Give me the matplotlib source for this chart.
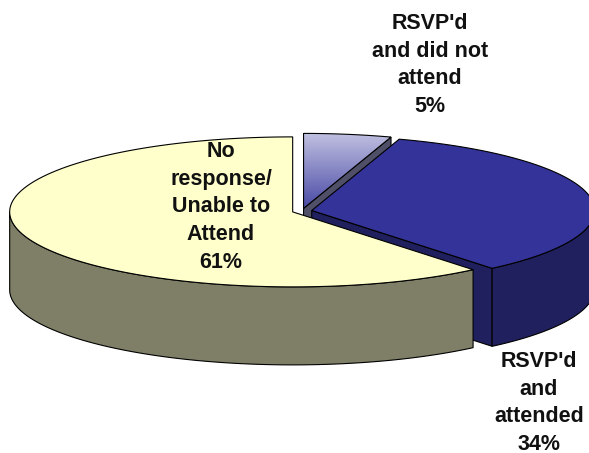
import numpy as np
import matplotlib.pyplot as plt
from matplotlib.patches import Polygon
from matplotlib.colors import LinearSegmentedColormap

# slices, clockwise from 12 o'clock
labels = ["RSVP'd\nand did not\nattend", "RSVP'd\nand\nattended", "No\nresponse/\nUnable to\nAttend"]
values = [5, 34, 61]
top_colors = ["#9c9cd0", "#333399", "#ffffcc"]
side_colors = ["#4f4f68", "#20205e", "#7f7f68"]
label_pos = [(430, 65), (539, 403), (221, 207)]

# pie geometry in pixels
cx, cy = 302, 211
rx, ry = 283, 75
depth = 78
explode = 0.035

fig = plt.figure(figsize=(5.89, 4.53), dpi=100)
ax = fig.add_axes([0, 0, 1, 1])
ax.set_xlim(0, 589)
ax.set_ylim(453, 0)
ax.axis("off")


def rim(x0, y0, t):
    t = np.radians(t)
    return x0 + rx * np.sin(t), y0 - ry * np.cos(t)


total = float(sum(values))
angles = np.cumsum([0] + [v / total * 360 for v in values])
centers = []
for i in range(len(values)):
    mid = np.radians((angles[i] + angles[i + 1]) / 2)
    centers.append((cx + explode * rx * np.sin(mid), cy - explode * ry * np.cos(mid)))

# --- side walls first (back to front)
for i in range(len(values)):
    x0, y0 = centers[i]
    t0, t1 = angles[i], angles[i + 1]
    # visible radial faces
    for t, sgn in ((t0, -1), (t1, 1)):
        tr = np.radians(t)
        ny = sgn * np.sin(tr)
        if ny > 0.05:
            px, py = rim(x0, y0, t)
            quad = [(x0, y0), (px, py), (px, py + depth), (x0, y0 + depth)]
            ax.add_patch(Polygon(quad, closed=True, fc=side_colors[i], ec="black", lw=0.8))
    # outer curved wall, front half only
    a, b = max(t0, 90), min(t1, 270)
    if b > a:
        ts = np.linspace(a, b, 120)
        xs, ys = rim(x0, y0, ts)
        pts = list(zip(xs, ys)) + list(zip(xs[::-1], ys[::-1] + depth))
        ax.add_patch(Polygon(pts, closed=True, fc=side_colors[i], ec="black", lw=0.8))

# --- top faces
for i in range(len(values)):
    x0, y0 = centers[i]
    ts = np.linspace(angles[i], angles[i + 1], 200)
    xs, ys = rim(x0, y0, ts)
    pts = [(x0, y0)] + list(zip(xs, ys))
    if i == 0:
        poly = Polygon(pts, closed=True, fc="none", ec="black", lw=0.8, zorder=3)
        ax.add_patch(poly)
        cmap = LinearSegmentedColormap.from_list("lb", ["#c2c2e2", "#4a4aa6"])
        ymin, ymax = min(ys.min(), y0), max(ys.max(), y0)
        xmin, xmax = min(xs.min(), x0), max(xs.max(), x0)
        grad = np.linspace(0, 1, 256).reshape(-1, 1)
        im = ax.imshow(grad, cmap=cmap, aspect="auto", extent=(xmin, xmax, ymax, ymin),
                       origin="upper", zorder=2)
        im.set_clip_path(poly)
    else:
        ax.add_patch(Polygon(pts, closed=True, fc=top_colors[i], ec="black", lw=0.8, zorder=2))

ax.set_xlim(0, 589)
ax.set_ylim(453, 0)

for i in range(len(values)):
    ax.text(label_pos[i][0], label_pos[i][1], f"{labels[i]}\n{values[i]}%",
            ha="center", va="center", fontsize=15.5, fontweight="bold",
            family="Liberation Sans", linespacing=1.42, color="#111111", zorder=5)

fig.savefig("out.png", dpi=100)
